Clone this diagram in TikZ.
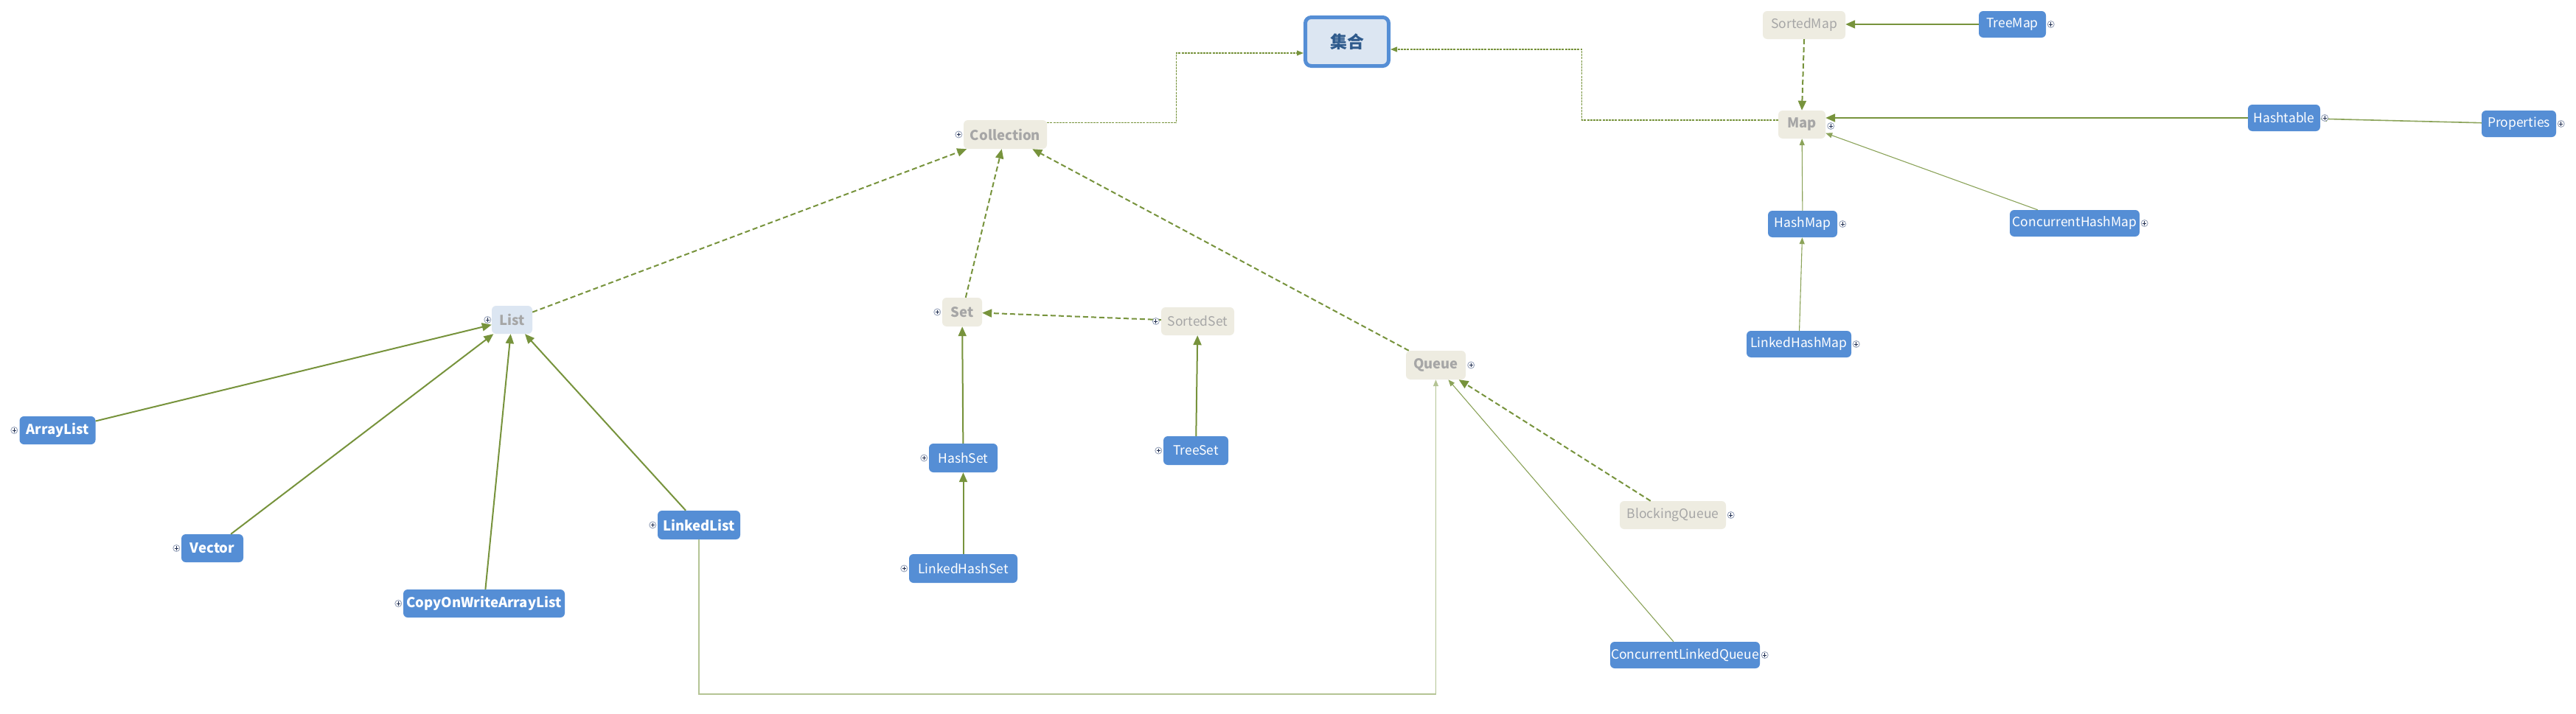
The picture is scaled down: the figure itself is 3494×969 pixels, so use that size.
\documentclass[tikz,border=0pt]{standalone}
\usepackage{fontspec}
\setmainfont{Noto Sans CJK SC}
\usetikzlibrary{arrows.meta}
\definecolor{olive}{HTML}{77933C}
\definecolor{nodeblue}{HTML}{558ED5}
\definecolor{beige}{HTML}{EEECE1}
\definecolor{paleblue}{HTML}{DCE6F2}
\definecolor{greytext}{HTML}{A6A6A6}
\definecolor{titleblue}{HTML}{2E5A8C}
\definecolor{iconring}{HTML}{8E9BB5}
\definecolor{iconplus}{HTML}{1F2D50}
\tikzset{
  box/.style={rectangle, rounded corners=6pt, inner sep=0pt, draw=none},
  impl/.style={box, fill=nodeblue, text=white, font=\fontsize{17.5}{20}\selectfont},
  implb/.style={box, fill=nodeblue, text=white, font=\fontsize{18.5}{20}\selectfont\bfseries},
  iface/.style={box, fill=beige, text=greytext, font=\fontsize{18.5}{20}\selectfont\bfseries},
  ifacel/.style={box, fill=beige, text=greytext, font=\fontsize{17.5}{20}\selectfont},
  root/.style={rectangle, rounded corners=8pt, fill=paleblue, draw=nodeblue, line width=5pt,
    text=titleblue, font=\fontsize{23}{26}\selectfont\bfseries, inner sep=0pt},
  bigtip/.style={-{Triangle[length=13pt,width=11pt]}},
  smalltip/.style={-{Triangle[length=9pt,width=7pt]}},
  dashline/.style={draw=olive, line width=2pt, dash pattern=on 7pt off 4pt, bigtip},
  solidline/.style={draw=olive, line width=2pt, bigtip},
  thinline/.style={draw=olive!85, line width=1.1pt, smalltip},
  paleline/.style={draw=olive!55, line width=1.3pt, smalltip},
  dotline/.style={draw=olive, line width=1.1pt, dash pattern=on 3pt off 1.2pt, smalltip},
  plusicon/.style={circle, draw=iconring, line width=0.8pt, fill=white, minimum size=9pt, inner sep=0pt,
    path picture={\draw[iconplus, line width=0.9pt]
      ([xshift=-2.6pt]path picture bounding box.center) -- ([xshift=2.6pt]path picture bounding box.center)
      ([yshift=-2.6pt]path picture bounding box.center) -- ([yshift=2.6pt]path picture bounding box.center);}},
}
\begin{document}
\begin{tikzpicture}[x=1pt, y=-1pt]
\useasboundingbox[fill=white] (0,0) rectangle (3494,969);

% root
\node[root, minimum width=113pt, minimum height=66pt] (jihe) at (1827,56.5) {集合};

% Collection branch
\node[iface, minimum width=113pt, minimum height=39pt] (Collection) at (1363.5,182.5) {Collection};
\node[box, fill=paleblue, text=greytext, font=\fontsize{18.5}{20}\selectfont\bfseries,
      minimum width=55pt, minimum height=38pt] (List) at (694.5,434) {List};
\node[implb, minimum width=103pt, minimum height=38pt] (ArrayList) at (78,584) {ArrayList};
\node[implb, minimum width=84pt, minimum height=38pt] (Vector) at (288,744) {Vector};
\node[implb, minimum width=219pt, minimum height=38pt] (COW) at (656.5,819) {CopyOnWriteArrayList};
\node[implb, minimum width=112pt, minimum height=39pt] (LinkedList) at (948,712.5) {LinkedList};

\node[iface, minimum width=54pt, minimum height=39pt] (Set) at (1305,423.5) {Set};
\node[ifacel, minimum width=99pt, minimum height=38pt] (SortedSet) at (1624.5,436) {SortedSet};
\node[impl, minimum width=93pt, minimum height=39pt] (HashSet) at (1306.5,621.5) {HashSet};
\node[impl, minimum width=147pt, minimum height=39pt] (LinkedHashSet) at (1306.5,771.5) {LinkedHashSet};
\node[impl, minimum width=88pt, minimum height=39pt] (TreeSet) at (1622,611.5) {TreeSet};

\node[iface, minimum width=81pt, minimum height=39pt] (Queue) at (1947.5,495.5) {Queue};
\node[ifacel, minimum width=144pt, minimum height=38pt] (BlockingQueue) at (2269,699) {BlockingQueue};
\node[impl, minimum width=203pt, minimum height=36pt] (CLQ) at (2285.5,889) {ConcurrentLinkedQueue};

% Map branch
\node[iface, minimum width=64pt, minimum height=38pt] (Map) at (2444,169) {Map};
\node[ifacel, minimum width=112pt, minimum height=38pt] (SortedMap) at (2447,34) {SortedMap};
\node[impl, minimum width=91pt, minimum height=36pt] (TreeMap) at (2729.5,33) {TreeMap};
\node[impl, minimum width=98pt, minimum height=36pt] (Hashtable) at (3098,160) {Hashtable};
\node[impl, minimum width=101pt, minimum height=36pt] (Properties) at (3416.5,168) {Properties};
\node[impl, minimum width=94pt, minimum height=36pt] (HashMap) at (2445,304) {HashMap};
\node[impl, minimum width=176pt, minimum height=36pt] (CHM) at (2814,303) {ConcurrentHashMap};
\node[impl, minimum width=142pt, minimum height=36pt] (LinkedHashMap) at (2440,467) {LinkedHashMap};

% connectors to root
\draw[dotline] ([yshift=-4pt]Collection.north east) -- ++(175,0) |- ([yshift=-15.5pt]jihe.west);
\draw[dotline] ([yshift=6pt]Map.west) -- ++(-266,0) |- ([yshift=-10.5pt]jihe.east);

% interface extension (dashed)
\draw[dashline] (List) -- (Collection);
\draw[dashline] (Set) -- (Collection);
\draw[dashline] (Queue) -- (Collection);
\draw[dashline] (SortedSet) -- (Set);
\draw[dashline] (SortedMap.south) -- (Map.north);
\draw[dashline] (BlockingQueue) -- (Queue);

% implementations (solid)
\draw[solidline] (ArrayList) -- (List);
\draw[solidline] (Vector) -- (List);
\draw[solidline] (COW) -- (List);
\draw[solidline] (LinkedList) -- (List);
\draw[solidline] (HashSet) -- (Set);
\draw[solidline] (LinkedHashSet) -- (HashSet);
\draw[solidline] (TreeSet) -- (SortedSet);
\draw[solidline] (TreeMap.west) -- (TreeMap.west -| SortedMap.east);
\draw[solidline] (Hashtable.west) -- (Hashtable.west -| Map.east);

% thin connectors
\draw[thinline, line width=1.6pt] (Properties) -- (Hashtable);
\draw[thinline] (CHM) -- (Map);
\draw[thinline] (HashMap) -- (Map);
\draw[thinline] (LinkedHashMap) -- (HashMap);
\draw[thinline] (CLQ) -- (Queue);
\coordinate (lowrail) at (0,942);
\draw[paleline] (LinkedList.south) -- (LinkedList.south |- lowrail) -| (Queue.south);

% expand icons
\node[plusicon] (pCollection) at ([xshift=-6.5pt]Collection.west) {};
\node[plusicon] (pList) at ([xshift=-5.5pt]List.west) {};
\node[plusicon] (pArrayList) at ([xshift=-7pt]ArrayList.west) {};
\node[plusicon] (pVector) at ([xshift=-6.5pt]Vector.west) {};
\node[plusicon] (pCOW) at ([xshift=-6.5pt]COW.west) {};
\node[plusicon] (pLinkedList) at ([xshift=-6.5pt]LinkedList.west) {};
\node[plusicon] (pSet) at ([xshift=-6.5pt]Set.west) {};
\node[plusicon] (pSortedSet) at ([xshift=-7pt]SortedSet.west) {};
\node[plusicon] (pHashSet) at ([xshift=-6.5pt]HashSet.west) {};
\node[plusicon] (pLinkedHashSet) at ([xshift=-6.5pt]LinkedHashSet.west) {};
\node[plusicon] (pTreeSet) at ([xshift=-6.5pt]TreeSet.west) {};
\node[plusicon] (pQueue) at ([xshift=7pt]Queue.east) {};
\node[plusicon] (pBlockingQueue) at ([xshift=6.5pt]BlockingQueue.east) {};
\node[plusicon] (pCLQ) at ([xshift=6.5pt]CLQ.east) {};
\node[plusicon] (pMap) at ([xshift=7pt,yshift=-2pt]Map.east) {};
\node[plusicon] (pTreeMap) at ([xshift=6.5pt]TreeMap.east) {};
\node[plusicon] (pHashtable) at ([xshift=6pt]Hashtable.east) {};
\node[plusicon] (pProperties) at ([xshift=6.5pt]Properties.east) {};
\node[plusicon] (pHashMap) at ([xshift=7pt]HashMap.east) {};
\node[plusicon] (pCHM) at ([xshift=6.5pt]CHM.east) {};
\node[plusicon] (pLinkedHashMap) at ([xshift=6.5pt]LinkedHashMap.east) {};
\end{tikzpicture}
\end{document}
